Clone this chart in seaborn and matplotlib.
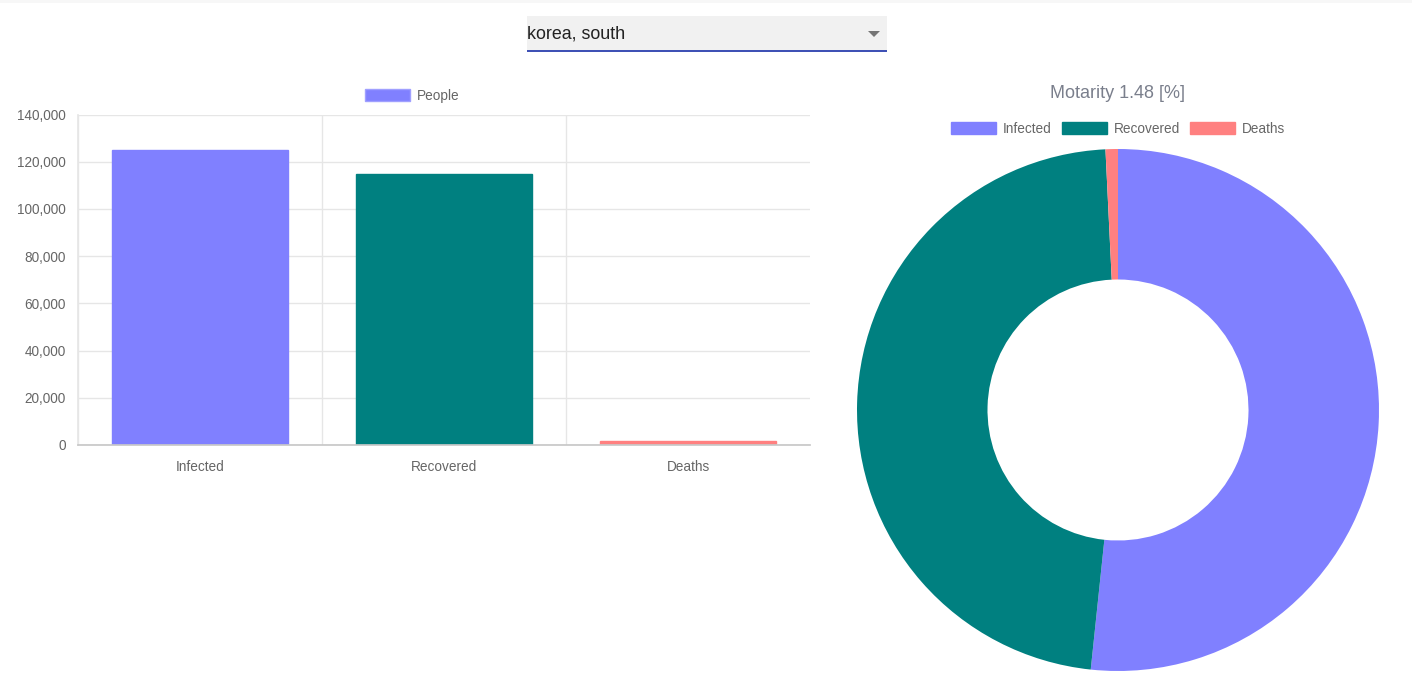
import matplotlib
matplotlib.use("Agg")
import matplotlib.pyplot as plt
import matplotlib.patches as mpatches
import matplotlib.ticker as mticker
import seaborn as sns
import pandas as pd

# data
country = "korea, south"
categories = ["Infected", "Recovered", "Deaths"]
people = [124800, 114900, 1850]
colors = ["#8080FF", "#008080", "#FF8080"]
mortality = "1.48"
y_ticks = [0, 20000, 40000, 60000, 80000, 100000, 120000, 140000]

sns.set_theme(style="white")
plt.rcParams["font.family"] = ["Liberation Sans", "DejaVu Sans"]

W, H = 1412, 691
fig = plt.figure(figsize=(W / 100, H / 100), dpi=100)

def px(l, t, w, h):
    # pixel box (from top-left) -> figure fraction rect
    return [l / W, 1 - (t + h) / H, w / W, h / H]

grid = "#E6E6E6"
txt = "#666666"
fs = 9.8

# faint strip at the very top
fig.patches.append(mpatches.Rectangle((0, 1 - 3 / H), 1, 3 / H, transform=fig.transFigure,
                                      facecolor="#F7F7F7", edgecolor="none"))

# dropdown
fig.patches.append(mpatches.Rectangle((527 / W, 1 - 50 / H), 360 / W, 34 / H, transform=fig.transFigure,
                                      facecolor="#F1F1F1", edgecolor="none"))
fig.patches.append(mpatches.Rectangle((527 / W, 1 - 52 / H), 360 / W, 2 / H, transform=fig.transFigure,
                                      facecolor="#3F51B5", edgecolor="none"))
fig.text(527 / W, 1 - 34 / H, country, fontsize=12.9, color="#222222", va="center", ha="left")
fig.patches.append(mpatches.Polygon([(868 / W, 1 - 31 / H), (880 / W, 1 - 31 / H), (874 / W, 1 - 37 / H)],
                                    closed=True, transform=fig.transFigure, facecolor="#757575",
                                    edgecolor="none"))

# bar chart
df = pd.DataFrame({"category": categories, "people": people})
ax = fig.add_axes(px(78, 114.5, 732, 330.5))
sns.barplot(data=df, x="category", y="people", hue="category", palette=colors,
            width=0.72, legend=False, saturation=1, ax=ax)
for p, c in zip(ax.patches, colors):
    p.set_edgecolor(c)
    p.set_linewidth(1)
ax.set_xlim(-0.5, 2.5)
ax.set_ylim(0, 140000)
ax.set_yticks(y_ticks)
ax.yaxis.set_major_formatter(mticker.FuncFormatter(lambda v, _: f"{int(v):,}"))
ax.set_xticks([-0.5, 0.5, 1.5], minor=True)
ax.grid(axis="y", color=grid, linewidth=1)
ax.grid(axis="x", which="minor", color=grid, linewidth=1)
ax.set_axisbelow(True)
ax.set_xlabel("")
ax.set_ylabel("")
for s in ["top", "right"]:
    ax.spines[s].set_visible(False)
ax.spines["left"].set_color(grid)
ax.spines["bottom"].set_color("#C8C8C8")
ax.tick_params(axis="y", length=7.2, width=1, color=grid, labelsize=fs, labelcolor=txt, pad=1.5)
ax.tick_params(axis="x", which="major", length=0, labelsize=fs, labelcolor=txt, pad=10.5)
ax.tick_params(axis="x", which="minor", length=6, width=1, color=grid)
ax.legend(handles=[mpatches.Patch(facecolor=colors[0], edgecolor="#A0A0FF", label="People")],
          loc="center", bbox_to_anchor=((412 - 78) / 732, 1 + 18.5 / 330.5), frameon=False, fontsize=fs,
          labelcolor=txt, handlelength=3.3, handleheight=0.95, borderaxespad=0, handletextpad=0.5)

# doughnut
cx, cy, r = 1118, 410, 261
pax = fig.add_axes(px(cx - r, cy - r, 2 * r, 2 * r))
pax.pie(people, colors=colors, startangle=90, counterclock=False, radius=1,
        wedgeprops=dict(width=0.5, edgecolor="none"))
pax.set_xlim(-1, 1)
pax.set_ylim(-1, 1)
pax.set_aspect("equal")
pax.axis("off")

fig.text(cx / W, 1 - 93 / H, f"Motarity {mortality} [%]", fontsize=13, color="#7A7F8C",
         ha="center", va="center")
handles = [mpatches.Patch(facecolor=c, edgecolor=c, label=l) for c, l in zip(colors, categories)]
fig.legend(handles=handles, loc="center", bbox_to_anchor=(cx / W, 1 - 129 / H), ncol=3,
           frameon=False, fontsize=fs, labelcolor=txt, handlelength=3.3, handleheight=0.95,
           handletextpad=0.5, columnspacing=0.75)

fig.savefig("out.png", dpi=100)
